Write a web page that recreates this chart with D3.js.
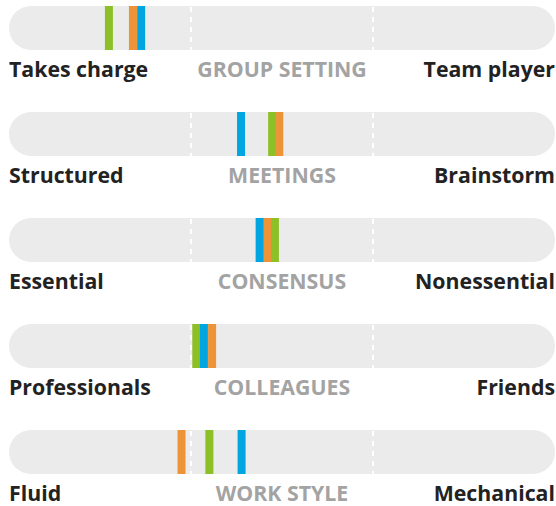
<!DOCTYPE html>
<html><head><meta charset="utf-8">
<script src="https://cdn.jsdelivr.net/npm/d3@7"></script>
<style>body{margin:0;background:#fff}</style>
</head><body>
<script>
const categories = ["GROUP SETTING","MEETINGS","CONSENSUS","COLLEAGUES","WORK STYLE"];
const leftLabels = ["Takes charge","Structured","Essential","Professionals","Fluid"];
const rightLabels = ["Team player","Brainstorm","Nonessential","Friends","Mechanical"];
const greenValues = [18.3, 48.2, 48.7, 34.3, 36.7];
const orangeValues = [22.7, 49.5, 47.3, 37.2, 31.6];
const blueValues = [24.2, 42.5, 45.9, 35.7, 42.6];
const seriesColors = ["#8dbf27","#ec9437","#00a5e2"];
const dividerTicks = [100/3, 200/3];

const W = 556, H = 506;
const svg = d3.select("body").append("svg").attr("width", W).attr("height", H);
const x = d3.scaleLinear().domain([0,100]).range([9, 555]);
const series = [greenValues, orangeValues, blueValues];
const barW = 8;
const trackH = 44;
const fs = 21.3;

categories.forEach((c, i) => {
  const g = svg.append("g").attr("transform", `translate(0,${6 + i*106})`);
  g.append("rect").attr("x", x(0)).attr("y", 0).attr("width", x(100)-x(0)).attr("height", trackH)
    .attr("rx", trackH/2).attr("fill", "#ebebeb");
  dividerTicks.forEach(t => {
    g.append("line").attr("x1", x(t)).attr("x2", x(t)).attr("y1", 0).attr("y2", trackH)
      .attr("stroke", "#fff").attr("stroke-width", 2).attr("stroke-dasharray", "5,5").attr("stroke-dashoffset", -1);
  });
  series.forEach((vals, s) => {
    g.append("rect").attr("x", x(vals[i]) - barW/2).attr("y", 0).attr("width", barW).attr("height", trackH)
      .attr("fill", seriesColors[s]);
  });
  const ty = trackH + 27;
  const mk = (xx, anchor, fill, txt) => g.append("text").attr("x", xx).attr("y", ty).attr("text-anchor", anchor)
    .attr("font-family", "Open Sans").attr("font-weight", 700).attr("font-size", fs).attr("fill", fill).text(txt);
  mk(x(0), "start", "#222", leftLabels[i]);
  mk(x(100), "end", "#222", rightLabels[i]);
  mk(x(50), "middle", "#a3a3a3", c);
});
</script>
</body></html>
